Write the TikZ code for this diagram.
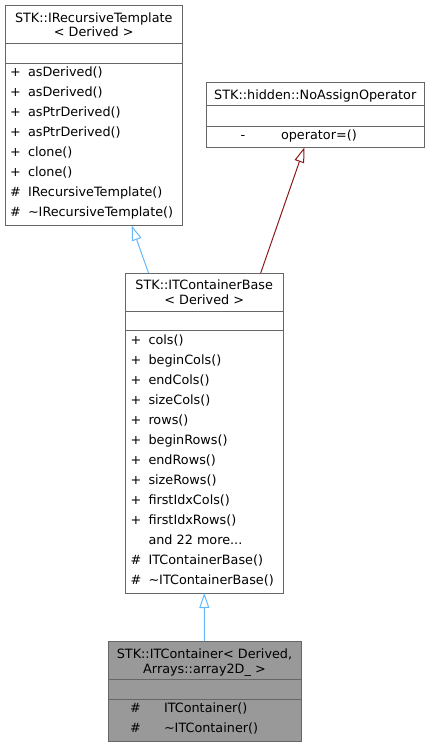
\documentclass[tikz,border=0pt]{standalone}
\usepackage{fontspec}
\setmainfont{DejaVu Sans}
\usetikzlibrary{arrows.meta}
\definecolor{bordergray}{HTML}{666666}
\definecolor{hlfill}{HTML}{999999}
\definecolor{inhblue}{HTML}{63B8FF}
\definecolor{inhred}{HTML}{8B1A1A}
\begin{document}
\begin{tikzpicture}[x=1pt,y=-1pt,
  font=\fontsize{12.8}{15}\selectfont,
  umlbox/.style={draw=bordergray, line width=1pt, fill=white, rectangle, inner sep=0pt, outer sep=0pt},
  divline/.style={draw=bordergray, line width=1pt},
  txt/.style={inner sep=0pt, outer sep=0pt, anchor=base west, text=black},
  ctxt/.style={inner sep=0pt, outer sep=0pt, anchor=base, text=black},
  inhblueline/.style={draw=inhblue, line width=1pt, -{Triangle[open, length=15pt, width=10pt]}},
  inhredline/.style={draw=inhred, line width=1pt, -{Triangle[open, length=15pt, width=10pt]}}
]
\useasboundingbox (0,0) rectangle (429,747);

% ---------- Box 1: IRecursiveTemplate ----------
\node[umlbox, minimum width=177.5pt, minimum height=220.5pt] (b1) at (93.75,115.25) {};
\draw[divline] (5,43.5) -- (182.5,43.5);
\draw[divline] (5,63) -- (182.5,63);
\node[ctxt] (b1t1) at (93.75,22) {STK::IRecursiveTemplate};
\node[ctxt] (b1t2) at (93.75,36.5) {< Derived >};
\node[txt] (b1s1) at (10,76.5) {+};  \node[txt] (b1n1) at (28,76.5) {asDerived()};
\node[txt] (b1s2) at (10,96.5) {+};  \node[txt] (b1n2) at (28,96.5) {asDerived()};
\node[txt] (b1s3) at (10,116.5) {+}; \node[txt] (b1n3) at (28,116.5) {asPtrDerived()};
\node[txt] (b1s4) at (10,136.5) {+}; \node[txt] (b1n4) at (28,136.5) {asPtrDerived()};
\node[txt] (b1s5) at (10,156.5) {+}; \node[txt] (b1n5) at (28,156.5) {clone()};
\node[txt] (b1s6) at (10,176.5) {+}; \node[txt] (b1n6) at (28,176.5) {clone()};
\node[txt] (b1s7) at (10,196.5) {\#}; \node[txt] (b1n7) at (28,196.5) {IRecursiveTemplate()};
\node[txt] (b1s8) at (10,216.5) {\#}; \node[txt] (b1n8) at (28,216.5) {\textasciitilde IRecursiveTemplate()};

% ---------- Box 4: NoAssignOperator ----------
\node[umlbox, minimum width=217.5pt, minimum height=65pt] (b4) at (315.25,115) {};
\draw[divline] (206.5,105) -- (424,105);
\draw[divline] (206.5,126) -- (424,126);
\node[ctxt] (b4t1) at (315.25,99) {STK::hidden::NoAssignOperator};
\node[ctxt] (b4s1) at (243,139.5) {-};
\node[txt] (b4n1) at (281,139.5) {operator=()};

% ---------- Box 2: ITContainerBase ----------
\node[umlbox, minimum width=157.5pt, minimum height=320pt] (b2) at (204.25,433) {};
\draw[divline] (125.5,311) -- (283,311);
\draw[divline] (125.5,330.5) -- (283,330.5);
\node[ctxt] (b2t1) at (204.25,289.5) {STK::ITContainerBase};
\node[ctxt] (b2t2) at (204.25,304) {< Derived >};
\node[txt] (b2s1) at (130.5,344) {+};  \node[txt] (b2n1) at (148.5,344) {cols()};
\node[txt] (b2s2) at (130.5,364) {+};  \node[txt] (b2n2) at (148.5,364) {beginCols()};
\node[txt] (b2s3) at (130.5,384) {+};  \node[txt] (b2n3) at (148.5,384) {endCols()};
\node[txt] (b2s4) at (130.5,404) {+};  \node[txt] (b2n4) at (148.5,404) {sizeCols()};
\node[txt] (b2s5) at (130.5,424) {+};  \node[txt] (b2n5) at (148.5,424) {rows()};
\node[txt] (b2s6) at (130.5,444) {+};  \node[txt] (b2n6) at (148.5,444) {beginRows()};
\node[txt] (b2s7) at (130.5,464) {+};  \node[txt] (b2n7) at (148.5,464) {endRows()};
\node[txt] (b2s8) at (130.5,484) {+};  \node[txt] (b2n8) at (148.5,484) {sizeRows()};
\node[txt] (b2s9) at (130.5,504) {+};  \node[txt] (b2n9) at (148.5,504) {firstIdxCols()};
\node[txt] (b2s10) at (130.5,524) {+}; \node[txt] (b2n10) at (148.5,524) {firstIdxRows()};
\node[txt] (b2n11) at (148.5,544) {and 22 more...};
\node[txt] (b2s12) at (130.5,564) {\#}; \node[txt] (b2n12) at (148.5,564) {ITContainerBase()};
\node[txt] (b2s13) at (130.5,584) {\#}; \node[txt] (b2n13) at (148.5,584) {\textasciitilde ITContainerBase()};

% ---------- Box 3: ITContainer (highlighted) ----------
\node[umlbox, fill=hlfill, minimum width=193pt, minimum height=100.5pt] (b3) at (204.5,691.25) {};
\draw[divline] (108,679.5) -- (301,679.5);
\draw[divline] (108,699) -- (301,699);
\node[ctxt] (b3t1) at (204.5,658.5) {STK::ITContainer< Derived,};
\node[ctxt] (b3t2) at (204.5,673) {Arrays::array2D\_ >};
\node[txt] (b3s1) at (130,712.5) {\#}; \node[txt] (b3n1) at (164,712.5) {ITContainer()};
\node[txt] (b3s2) at (130,732.5) {\#}; \node[txt] (b3n2) at (164,732.5) {\textasciitilde ITContainer()};

% ---------- Connectors ----------
\coordinate (b2outA) at (148.5,273);
\coordinate (b1in) at (131.7,225.5);
\coordinate (b2outB) at (260.7,273);
\coordinate (b4in) at (304.3,147.5);
\draw[inhblueline] (b2outA) -- (b1in);
\draw[inhredline] (b2outB) -- (b4in);
\draw[inhblueline] (b3.north) -- (b2.south);
\end{tikzpicture}
\end{document}
